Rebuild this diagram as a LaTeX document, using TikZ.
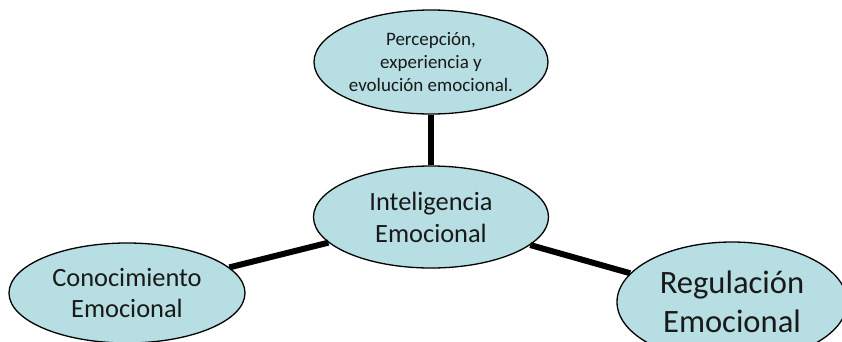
\documentclass[tikz,border=0pt]{standalone}
\usepackage{fontspec}
\setmainfont{Carlito}
\usetikzlibrary{shapes.geometric}
\definecolor{aqua}{RGB}{183,222,226}

\begin{document}
\begin{tikzpicture}[x=1pt,y=-1pt,
 burbuja/.style={ellipse, draw=black, line width=1.3pt, fill=aqua, inner sep=0, align=center, text=black!90},
 rama/.style={black, line width=6pt}]
\useasboundingbox (0,0) rectangle (842,341);
\node[burbuja, minimum width=234, minimum height=104, font=\fontsize{19}{23}\selectfont] (per) at (431,62) {Percepción,\\experiencia y\\evolución emocional.};
\node[burbuja, minimum width=235, minimum height=102, font=\fontsize{26.4}{32}\selectfont] (ie) at (431,217) {Inteligencia\\Emocional};
\node[burbuja, minimum width=236, minimum height=100, font=\fontsize{26.4}{31}\selectfont] (con) at (127,293) {Conocimiento\\Emocional};
\node[burbuja, minimum width=230, minimum height=120, font=\fontsize{32.6}{39}\selectfont] (reg) at (732,302) {Regulación\\Emocional};
\foreach \n in {per,con,reg} {
 \draw[rama] (ie)--(\n);
}
\end{tikzpicture}
\end{document}
